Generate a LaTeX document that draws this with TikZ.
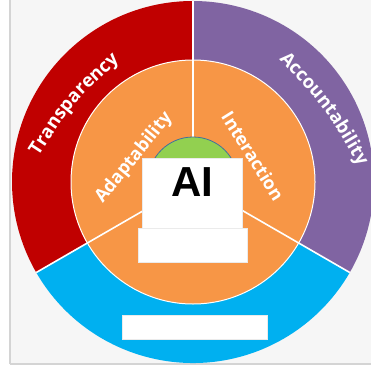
\documentclass[tikz,border=0pt]{standalone}
\usepackage{fontspec}
\usetikzlibrary{decorations.text,calc}
\newfontfamily\osb{Open Sans}
\newfontfamily\lsb{Liberation Sans}
\definecolor{cred}{HTML}{C00000}
\definecolor{cpurple}{HTML}{8064A2}
\definecolor{cblue}{HTML}{00B0F0}
\definecolor{corange}{HTML}{F79646}
\definecolor{cgreen}{HTML}{92D050}
\definecolor{cpanel}{HTML}{F6F6F6}
\definecolor{cedge}{HTML}{D4D4D4}
\definecolor{coutline}{HTML}{41719C}
\tikzset{
  sep/.style={draw=white, line width=1.6pt},
  whitebox/.style={fill=white, draw=black!8, line width=0.4pt, inner sep=0pt},
  ringtext/.style={decorate, decoration={text along path, text align=center, text color=white,
     text={|\osb\bfseries\fontsize{18.5}{18.5}\selectfont|#1}}},
  innertext/.style={text=white, font=\osb\bfseries\fontsize{18}{18}\selectfont, inner sep=0pt}
}
\begin{document}
\begin{tikzpicture}[x=1pt,y=1pt]
\useasboundingbox (0,0) rectangle (371,367);
\clip (0,0) rectangle (371,367);
\fill[white] (0,0) rectangle (371,367);
\fill[cpanel] (10,3) rectangle (371,367);
\draw[cedge, line width=1.5pt] (10,3) -- (10,367);
\draw[cedge, line width=1.5pt] (10,3) -- (371,3);
\coordinate (c) at (193,185);
% outer ring sectors
\fill[cred] (c) -- ++(90:181) arc (90:210:181) -- cycle;
\fill[cpurple] (c) -- ++(-30:181) arc (-30:90:181) -- cycle;
\fill[cblue] (c) -- ++(210:181) arc (210:330:181) -- cycle;
% inner orange disc
\fill[corange] (c) circle (122);
\draw[white, line width=1pt] (c) circle (122);
% radial separators
\foreach \a in {90,210,330} \draw[sep] ($(c)+(\a:45)$) -- ($(c)+(\a:181)$);
% green disc
\filldraw[fill=cgreen, draw=coutline, line width=0.8pt] (c) circle (45);
% ring labels
\coordinate (ts) at (38,210); \coordinate (te) at (120,307);
\coordinate (as) at (276,311); \coordinate (ae) at (361,197);
\path[ringtext=Transparency] (ts) .. controls (73,264) .. (te);
\path[ringtext=Accountability] (as) .. controls (325,259) .. (ae);
% inner labels
\node[innertext, rotate=51] (adapt) at (134,209) {Adaptability};
\node[innertext, rotate=-58] (inter) at (253,211) {Interaction};
% boxes
\node[whitebox, minimum width=100pt, minimum height=70pt] (ai) at (192,174) {};
\node[font=\lsb\bfseries\fontsize{42}{42}\selectfont, inner sep=0pt] (ailabel) at (192,185) {AI};
\node[whitebox, minimum width=109pt, minimum height=34pt] (base) at (192.5,122) {};
\node[whitebox, minimum width=145pt, minimum height=24pt] (bottom) at (194.5,40) {};
\end{tikzpicture}
\end{document}
